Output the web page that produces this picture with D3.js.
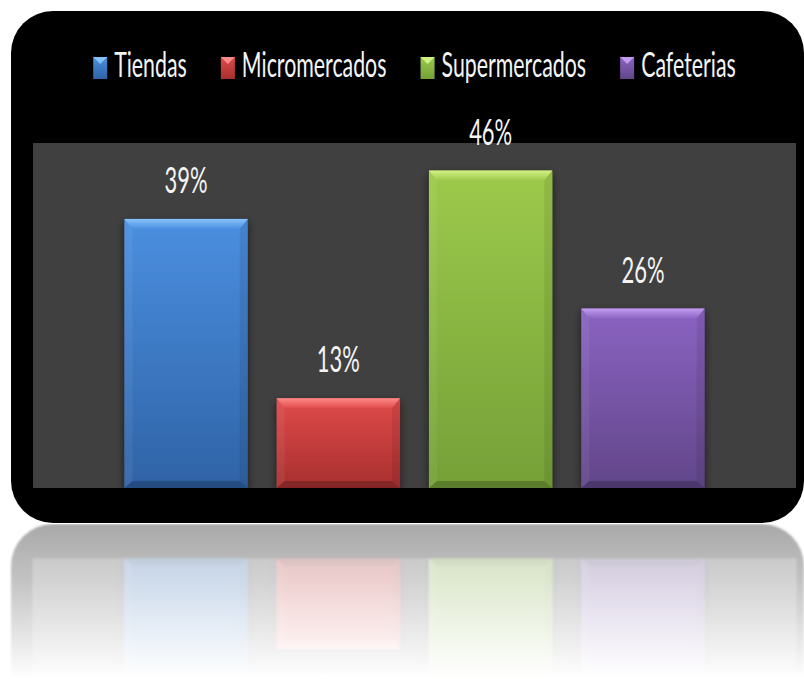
<!DOCTYPE html>
<html>
<head>
<meta charset="utf-8">
<script src="https://cdn.jsdelivr.net/npm/d3@7"></script>
<style>
  html, body { margin: 0; padding: 0; background: #ffffff; }
  svg { display: block; }
  text { font-family: "Comic Sans MS", "Lato", sans-serif; fill: #f4f4f4; }
</style>
</head>
<body>
<svg id="chart" width="804" height="679"></svg>
<script>
// Share of outlets by type
const categories = ["Tiendas", "Micromercados", "Supermercados", "Cafeterias"];
const shares = [0.39, 0.13, 0.46, 0.26];
const labels = ["39%", "13%", "46%", "26%"];
const yDomain = [0, 0.5];

// light bevel, upper body, lower body
const palette = [
  ["#86c2fa", "#4b8fe0", "#2f63a6"],
  ["#ff8a8a", "#e04a4a", "#a82f2f"],
  ["#d2f184", "#9dca4b", "#74a038"],
  ["#c29cf0", "#8b63c2", "#614689"]
];

const W = 804, H = 679;
const card = { x: 11, y: 11, w: 793, h: 512, r: 42 };
const plot = { left: 33, right: 796, top: 143, bottom: 488 };
const squeeze = 0.61;   // narrow lettering

const svg = d3.select("#chart");
const defs = svg.append("defs");

palette.forEach((c, i) => {
  const g = defs.append("linearGradient").attr("id", "body" + i)
    .attr("x1", 0).attr("y1", 0).attr("x2", 0).attr("y2", 1);
  g.append("stop").attr("offset", 0).attr("stop-color", c[1]);
  g.append("stop").attr("offset", 1).attr("stop-color", c[2]);
  const b = defs.append("linearGradient").attr("id", "bevel" + i)
    .attr("x1", 0).attr("y1", 0).attr("x2", 0).attr("y2", 1);
  b.append("stop").attr("offset", 0).attr("stop-color", c[0]);
  b.append("stop").attr("offset", 1).attr("stop-color", c[1]);
});

const shadow = defs.append("filter").attr("id", "barShadow")
  .attr("x", -0.2).attr("y", -0.2).attr("width", 1.4).attr("height", 1.4);
shadow.append("feGaussianBlur").attr("in", "SourceAlpha").attr("stdDeviation", 4).attr("result", "b");
shadow.append("feOffset").attr("in", "b").attr("dx", 0).attr("dy", 3).attr("result", "o");
shadow.append("feComponentTransfer").attr("in", "o").attr("result", "s")
  .append("feFuncA").attr("type", "linear").attr("slope", 0.6);
const merge = shadow.append("feMerge");
merge.append("feMergeNode").attr("in", "s");
merge.append("feMergeNode").attr("in", "SourceGraphic");

const soft = defs.append("filter").attr("id", "soft");
soft.append("feGaussianBlur").attr("stdDeviation", 1.2);

// fade for the mirrored copy below the card
const mirrorY = card.y + card.h + 1;
const fadeGrad = defs.append("linearGradient").attr("id", "fadeGrad")
  .attr("gradientUnits", "userSpaceOnUse")
  .attr("x1", 0).attr("y1", mirrorY).attr("x2", 0).attr("y2", H);
fadeGrad.append("stop").attr("offset", 0).attr("stop-color", "#fff").attr("stop-opacity", 0.34);
fadeGrad.append("stop").attr("offset", 0.35).attr("stop-color", "#fff").attr("stop-opacity", 0.24);
fadeGrad.append("stop").attr("offset", 1).attr("stop-color", "#fff").attr("stop-opacity", 0.0);
defs.append("mask").attr("id", "fade")
  .attr("maskUnits", "userSpaceOnUse")
  .attr("x", 0).attr("y", 0).attr("width", W).attr("height", H)
  .append("rect").attr("x", 0).attr("y", mirrorY).attr("width", W).attr("height", H - mirrorY)
  .attr("fill", "url(#fadeGrad)");

svg.append("rect").attr("width", W).attr("height", H).attr("fill", "#ffffff");

const x = d3.scaleBand().domain(categories)
  .range([plot.left, plot.right]).paddingInner(0.19).paddingOuter(0.6);
const y = d3.scaleLinear().domain(yDomain).range([plot.bottom, plot.top]);

const panel = svg.append("g").attr("id", "panel");

panel.append("rect")
  .attr("x", card.x).attr("y", card.y).attr("width", card.w).attr("height", card.h)
  .attr("rx", card.r).attr("ry", card.r).attr("fill", "#000000");

panel.append("rect")
  .attr("x", plot.left).attr("y", y(yDomain[1]))
  .attr("width", plot.right - plot.left).attr("height", y(0) - y(yDomain[1]))
  .attr("fill", "#404040");

const bevelH = 10, bevelIn = 8, baseH = 7;
const bars = panel.append("g").selectAll("g.bar")
  .data(categories.map((c, i) => ({ c, v: shares[i], i })))
  .join("g").attr("class", "bar");

bars.append("rect")
  .attr("x", d => x(d.c)).attr("y", d => y(d.v))
  .attr("width", x.bandwidth()).attr("height", d => y(0) - y(d.v))
  .attr("fill", d => `url(#body${d.i})`)
  .attr("filter", "url(#barShadow)");

// bevelled top edge
bars.append("path")
  .attr("d", d => {
    const x0 = x(d.c), x1 = x0 + x.bandwidth(), t = y(d.v);
    return `M${x0},${t}L${x1},${t}L${x1 - bevelIn},${t + bevelH}L${x0 + bevelIn},${t + bevelH}Z`;
  })
  .attr("fill", d => `url(#bevel${d.i})`);

// side bevels
bars.append("path")
  .attr("d", d => {
    const x0 = x(d.c), t = y(d.v), b = y(0);
    return `M${x0},${t}L${x0 + bevelIn},${t + bevelH}L${x0 + bevelIn},${b - baseH}L${x0},${b}Z`;
  })
  .attr("fill", "#ffffff").attr("opacity", 0.06);
bars.append("path")
  .attr("d", d => {
    const x1 = x(d.c) + x.bandwidth(), t = y(d.v), b = y(0);
    return `M${x1},${t}L${x1 - bevelIn},${t + bevelH}L${x1 - bevelIn},${b - baseH}L${x1},${b}Z`;
  })
  .attr("fill", "#000000").attr("opacity", 0.08);

// darker base edge
bars.append("path")
  .attr("d", d => {
    const x0 = x(d.c), x1 = x0 + x.bandwidth(), b = y(0);
    return `M${x0},${b}L${x1},${b}L${x1 - bevelIn},${b - baseH}L${x0 + bevelIn},${b - baseH}Z`;
  })
  .attr("fill", "#000000").attr("opacity", 0.22);

// value labels
bars.append("text")
  .attr("text-anchor", "middle")
  .attr("font-size", 36)
  .attr("transform", d => `translate(${x(d.c) + x.bandwidth() / 2},${y(d.v) - 26}) scale(${squeeze},1)`)
  .text(d => labels[d.i]);

// legend
const legend = panel.append("g");
const items = legend.selectAll("g").data(categories).join("g");
const swW = 14, swH = 22, swGap = 7, itemGap = 34, legendBase = 77;
items.append("text").attr("font-size", 35).text(d => d);
const widths = [];
items.select("text").each(function () { widths.push(this.getComputedTextLength() * squeeze); });
const itemW = widths.map(w => swW + swGap + w);
const total = d3.sum(itemW) + itemGap * (categories.length - 1);
let cx = (plot.left + plot.right) / 2 - total / 2;
items.each(function (d, i) {
  const g = d3.select(this);
  const sx = cx;
  g.insert("rect", "text")
    .attr("x", sx).attr("y", legendBase - swH + 2).attr("width", swW).attr("height", swH)
    .attr("fill", `url(#body${i})`);
  g.insert("path", "text")
    .attr("d", `M${sx},${legendBase - swH + 2}L${sx + swW},${legendBase - swH + 2}L${sx + swW / 2},${legendBase - swH + 9}Z`)
    .attr("fill", palette[i][0]);
  g.select("text")
    .attr("transform", `translate(${sx + swW + swGap},${legendBase}) scale(${squeeze},1)`);
  cx += itemW[i] + itemGap;
});

// mirrored, fading copy of the card
svg.append("g").attr("mask", "url(#fade)")
  .append("g").attr("filter", "url(#soft)")
  .append("use").attr("href", "#panel")
  .attr("transform", `translate(0,${2 * mirrorY - 1}) scale(1,-1)`);
</script>
</body>
</html>
